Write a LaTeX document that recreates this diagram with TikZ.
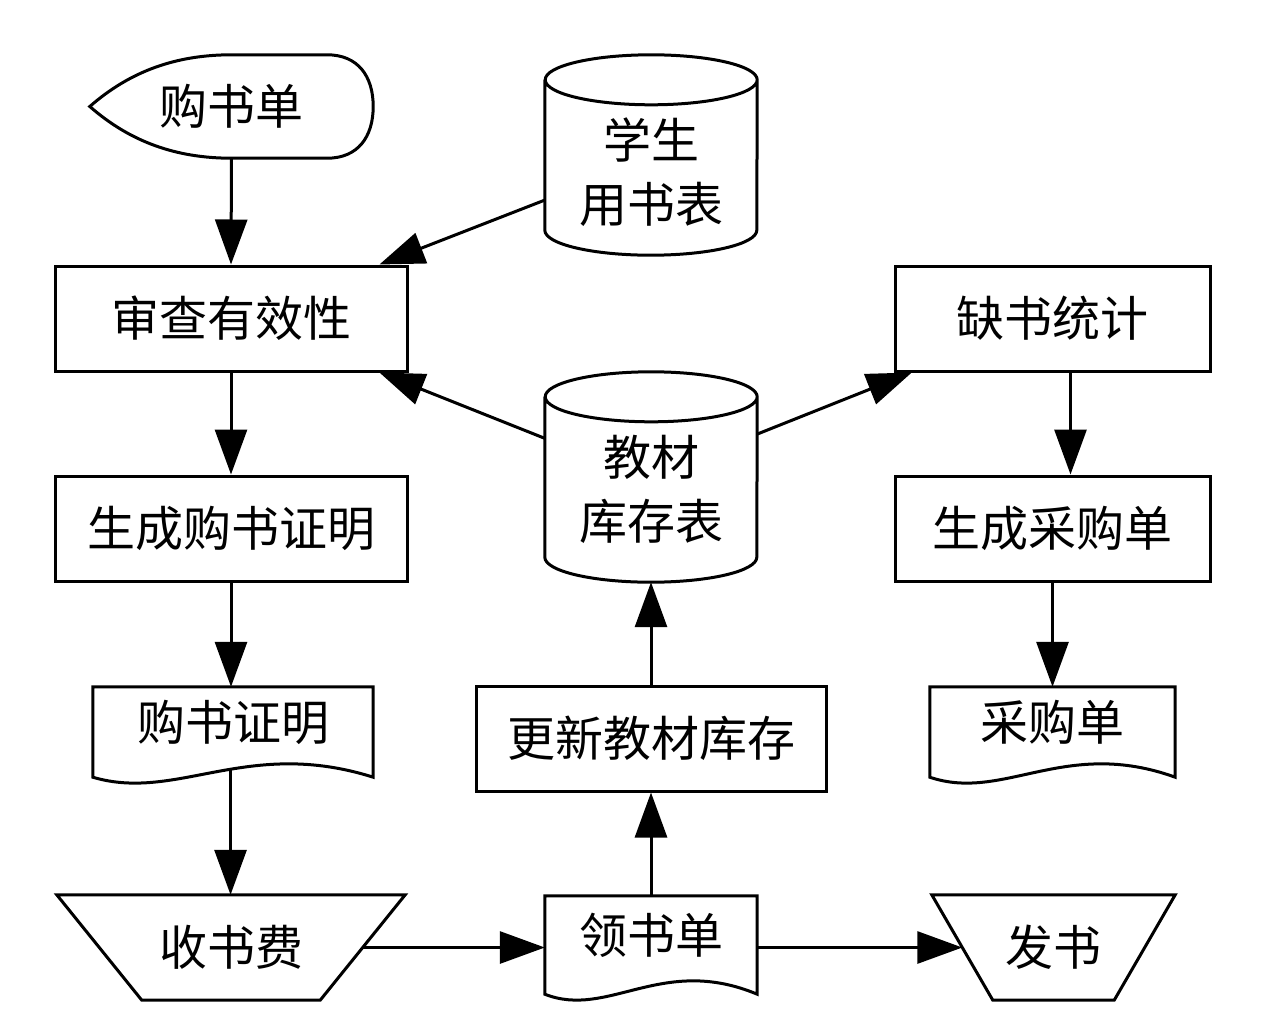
\documentclass[tikz,border=0pt]{standalone}
\usepackage{fontspec}
\newfontfamily\cjk{Noto Sans CJK SC}
\usetikzlibrary{arrows.meta,calc,positioning}

% outline of a document symbol round a named node
\newcommand\docshape[1]{%
  \draw[line width=3pt] ($(#1.south west)+(0pt,-20pt)$) -- (#1.north west) -- (#1.north east)
    -- ($(#1.south east)+(0pt,-20pt)$)
    .. controls ($(#1.south west)!0.55!(#1.south east)+(0pt,20pt)$) and ($(#1.south west)!0.3!(#1.south east)+(0pt,-45pt)$) ..
    ($(#1.south west)+(0pt,-20pt)$) coordinate[pos=0.45] (#1-w) -- cycle;}
% outline of a display symbol round a named node
\newcommand\dispshape[1]{%
  \draw[line width=3pt] (#1.west) .. controls ($(#1.west)+(40pt,35pt)$) and ($(#1.north)+(-56pt,0pt)$) .. (#1.north)
    -- ($(#1.north east)+(-46pt,0pt)$)
    .. controls ($(#1.north east)+(-15pt,0pt)$) and ($(#1.east)+(0pt,30pt)$) .. (#1.east)
    .. controls ($(#1.east)+(0pt,-30pt)$) and ($(#1.south east)+(-15pt,0pt)$) .. ($(#1.south east)+(-46pt,0pt)$)
    -- (#1.south)
    .. controls ($(#1.south)+(-56pt,0pt)$) and ($(#1.west)+(40pt,-35pt)$) .. (#1.west) -- cycle;}
% outline of a manual operation (wide side up) round a named node, #2 = slant
\newcommand\manshape[2]{%
  \draw[line width=3pt] (#1.north west) -- (#1.north east) -- ($(#1.south east)+(-#2pt,0pt)$)
    -- ($(#1.south west)+(#2pt,0pt)$) -- cycle;
  \coordinate (#1-l) at ($(#1.west)+(#2pt/2,0pt)$);
  \coordinate (#1-r) at ($(#1.east)+(-#2pt/2,0pt)$);}
% outline of a stored-data cylinder round a named node, #2 = half width
\newcommand\dbshape[2]{%
  \draw[line width=3pt] ($(#1.north west)+(0pt,-25pt)$) -- ($(#1.south west)+(0pt,25pt)$)
    arc[start angle=180, end angle=360, x radius=#2pt, y radius=25pt]
    -- ($(#1.north east)+(0pt,-25pt)$)
    arc[start angle=0, end angle=180, x radius=#2pt, y radius=25pt]
    arc[start angle=180, end angle=360, x radius=#2pt, y radius=25pt];}

\begin{document}
\begin{tikzpicture}[x=1pt, y=-1pt,
  every node/.append style={font=\cjk\fontsize{48}{64}\selectfont, inner sep=0pt},
  proc/.style={rectangle, draw, line width=3pt, minimum width=352pt, minimum height=105pt},
  db/.style={rectangle, minimum width=212pt},
  label/.style={align=center},
  manual/.style={rectangle, minimum height=105pt},
  flow/.style={line width=3pt, -{Triangle[length=45pt,width=32pt]}}
]
\useasboundingbox (0,0) rectangle (1268,1012);

% left column
\node[minimum width=283pt, minimum height=103pt] (buy) at (231.5,106.5) {购书单};
\node[proc] (check) at (231,318.5) {审查有效性};
\node[proc] (proof) at (231,528.5) {生成购书证明};
\node[minimum width=280pt, minimum height=70pt] (cert) at (233,722) {购书证明};
\node[manual, minimum width=348pt] (fee) at (231,947.5) {收书费};

% middle column
\node[db, minimum height=200pt] (usage) at (651,155) {};
\node[label] (usage-t) at ($(usage)+(0,17)$) {学生\\用书表};
\node[db, minimum height=210pt] (stock) at (651,477) {};
\node[label] (stock-t) at ($(stock)+(0,12)$) {教材\\库存表};
\node[proc, minimum width=350pt] (update) at (651,738.5) {更新教材库存};
\node[minimum width=212pt, minimum height=78pt] (recv) at (651,935) {领书单};

% right column
\node[proc, minimum width=315pt] (lack) at (1052.5,318.5) {缺书统计};
\node[proc, minimum width=315pt] (order) at (1052.5,528.5) {生成采购单};
\node[minimum width=245pt, minimum height=70pt] (olist) at (1052.5,722) {采购单};
\node[manual, minimum width=243pt] (give) at (1053.5,947.5) {发书};

\dispshape{buy}
\dbshape{usage}{106}
\dbshape{stock}{106}
\docshape{cert}
\docshape{recv}
\docshape{olist}
\manshape{fee}{85}
\manshape{give}{61}

% connectors
\draw[flow] (buy.south) -- (check.north);
\draw[flow] (usage.203) -- (check.20);
\draw[flow] (stock.160) -- (check.-20);
\draw[flow] (stock.22) -- (lack.201);
\draw[flow] (check.south) -- (proof.north);
\draw[flow] (proof.south) -- (proof.south |- cert.north);
\draw[flow] (cert-w) -- (cert-w |- fee.north);
\draw[flow] (fee-r) -- (fee-r -| recv.west);
\draw[flow] (give-l -| recv.east) -- (give-l);
\draw[flow] (recv.north) -- (update.south);
\draw[flow] (update.north) -- (stock.south);
\draw[flow] ($(lack.south)+(18pt,0pt)$) -- ($(order.north)+(18pt,0pt)$);
\draw[flow] (order.south) -- (olist.north);
\end{tikzpicture}
\end{document}
